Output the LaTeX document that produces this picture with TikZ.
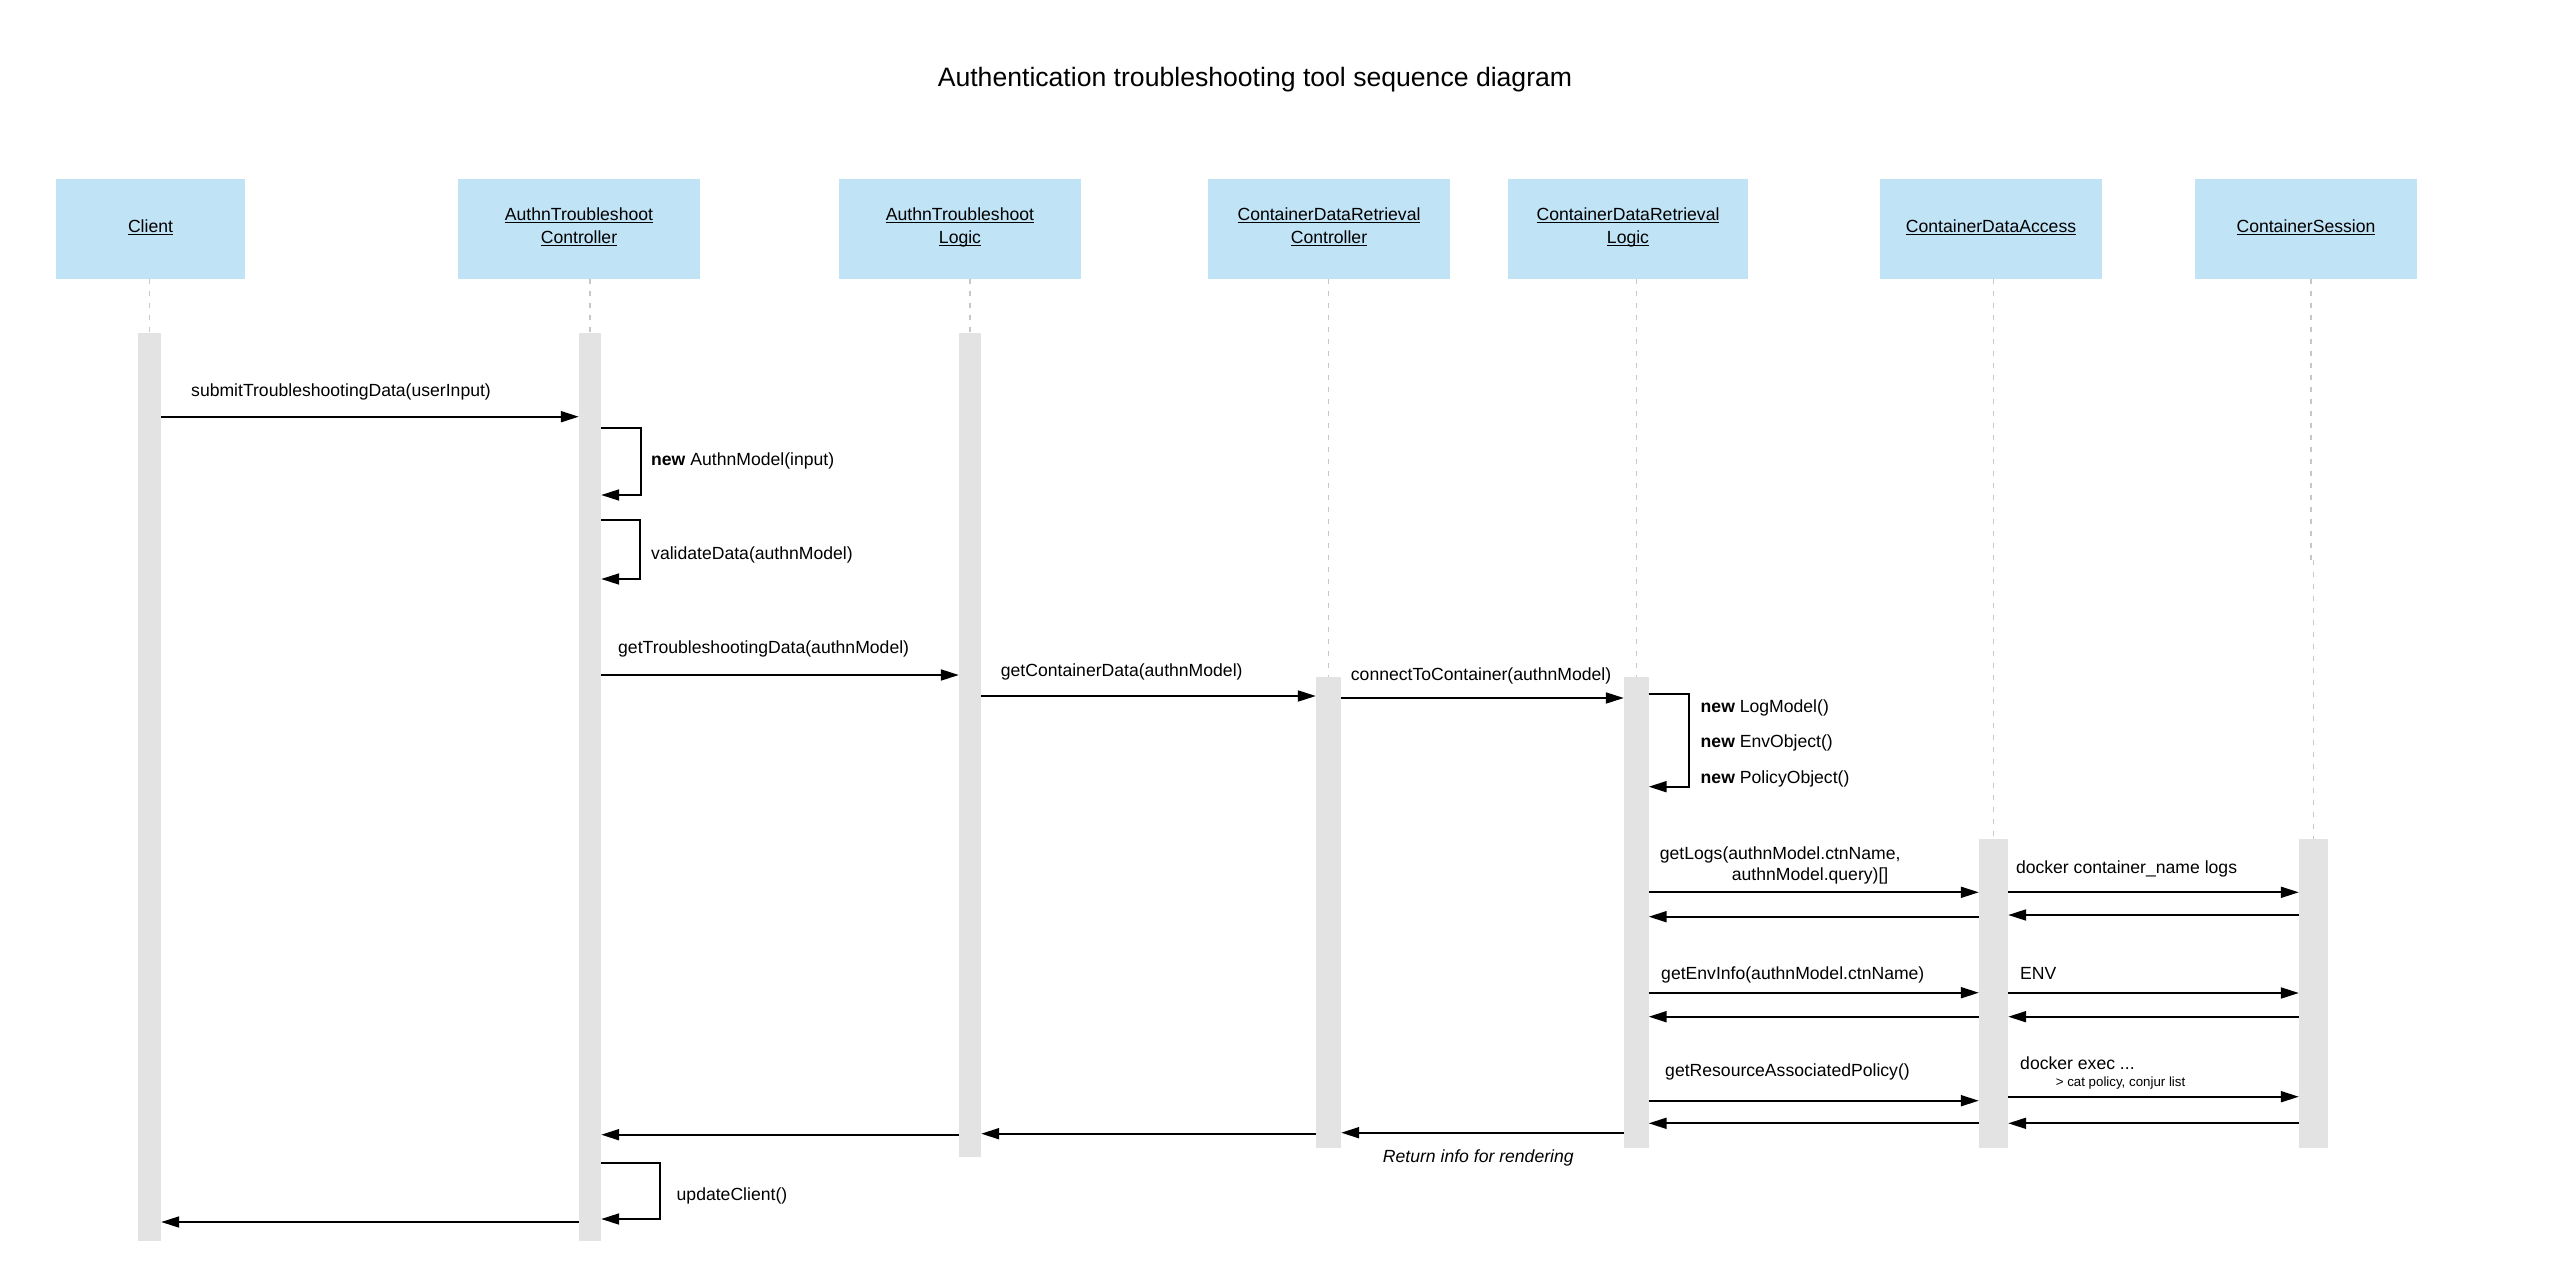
\documentclass[tikz,border=0pt]{standalone}
\usepackage{fontspec}
\setmainfont{Liberation Sans}
\usetikzlibrary{arrows.meta}
\definecolor{boxblue}{HTML}{C1E3F6}
\definecolor{barg}{HTML}{E3E3E3}
\definecolor{lifeg}{HTML}{C8C8C8}
\newcommand\uln[1]{\setbox0=\hbox{#1}\rlap{\vrule height -0.07em depth 0.14em width \wd0}\box0}
\newcommand\msgfont{\fontsize{17.6}{22.3}\selectfont}
\tikzset{
  participant/.style={fill=boxblue, draw=none, minimum height=100pt, inner sep=0},
  actbar/.style={fill=barg, draw=none, inner sep=0},
  lifeline/.style={draw=lifeg, line width=1.5pt, dash pattern=on 5pt off 7pt},
  msg/.style={line width=1.9pt, -{Triangle[length=18pt,width=11pt]}},
  lbl/.style={inner sep=0, anchor=base west, font=\msgfont},
  plbl/.style={inner sep=0, anchor=base, font=\msgfont},
}
\begin{document}
\begin{tikzpicture}[x=1pt,y=-1pt]
\useasboundingbox[fill=white] (0,0) rectangle (2576,1276);

% title
\node[inner sep=0, anchor=base, font=\fontsize{26.6}{32}\selectfont] (title) at (1255,86.7) {Authentication troubleshooting tool sequence diagram};

% participants
\node[participant, minimum width=189pt] (pC)  at (150.5,229) {};
\node[participant, minimum width=242pt] (pAC) at (579,229) {};
\node[participant, minimum width=242pt] (pAL) at (960,229) {};
\node[participant, minimum width=242pt] (pCC) at (1329,229) {};
\node[participant, minimum width=240pt] (pCL) at (1628,229) {};
\node[participant, minimum width=222pt] (pDA) at (1991,229) {};
\node[participant, minimum width=222pt] (pCS) at (2306,229) {};

\node[plbl] (tC)  at (150.5,232.5) {\uln{Client}};
\node[plbl] (tAC1) at (579,221) {\uln{AuthnTroubleshoot}};
\node[plbl] (tAC2) at (579,243.3) {\uln{Controller}};
\node[plbl] (tAL1) at (960,221) {\uln{AuthnTroubleshoot}};
\node[plbl] (tAL2) at (960,243.3) {\uln{Logic}};
\node[plbl] (tCC1) at (1329,221) {\uln{ContainerDataRetrieval}};
\node[plbl] (tCC2) at (1329,243.3) {\uln{Controller}};
\node[plbl] (tCL1) at (1628,221) {\uln{ContainerDataRetrieval}};
\node[plbl] (tCL2) at (1628,243.3) {\uln{Logic}};
\node[plbl] (tDA) at (1991,232.5) {\uln{ContainerDataAccess}};
\node[plbl] (tCS) at (2306,232.5) {\uln{ContainerSession}};

% activation bars
\node[actbar, minimum width=23pt, minimum height=908pt] (bC)  at (149.5,787) {};
\node[actbar, minimum width=22pt, minimum height=908pt] (bAC) at (590,787) {};
\node[actbar, minimum width=22pt, minimum height=824pt] (bAL) at (970,745) {};
\node[actbar, minimum width=25pt, minimum height=471pt] (bCC) at (1328.5,912.5) {};
\node[actbar, minimum width=24.5pt, minimum height=471pt] (bCL) at (1636.25,912.5) {};
\node[actbar, minimum width=29pt, minimum height=309pt] (bDA) at (1993.5,993.5) {};
\node[actbar, minimum width=29pt, minimum height=309pt] (bCS) at (2313.5,993.5) {};

% lifelines
\draw[lifeline] (bC.north |- pC.south) -- (bC.north);
\draw[lifeline] (bAC.north |- pAC.south) -- (bAC.north);
\draw[lifeline] (bAL.north |- pAL.south) -- (bAL.north);
\draw[lifeline] (bCC.north |- pCC.south) -- (bCC.north);
\draw[lifeline] (bCL.north |- pCL.south) -- (bCL.north);
\draw[lifeline] (bDA.north |- pDA.south) -- (bDA.north);
\coordinate (jog) at (2311,560);
\draw[lifeline] (jog |- pCS.south) -- (jog);
\draw[lifeline] (bCS.north |- jog) -- (bCS.north);

% messages
\draw[msg] (bC.east |- 0,416.7) -- (bAC.west |- 0,416.7);
\node[lbl] (m1) at (191,396) {submitTroubleshootingData(userInput)};

\draw[msg] (bAC.east |- 0,428.3) -- ++(40,0) |- (bAC.east |- 0,495);
\node[lbl] (m2) at (651,465) {\textbf{new} AuthnModel(input)};

\draw[msg] (bAC.east |- 0,520) -- ++(39,0) |- (bAC.east |- 0,579);
\node[lbl] (m3) at (651,559.3) {validateData(authnModel)};

\draw[msg] (bAC.east |- 0,675) -- (bAL.west |- 0,675);
\node[lbl] (m4) at (618,653) {getTroubleshootingData(authnModel)};

\draw[msg] (bAL.east |- 0,696) -- (bCC.west |- 0,696);
\node[lbl] (m5) at (1000.7,676.6) {getContainerData(authnModel)};

\draw[msg] (bCC.east |- 0,698) -- (bCL.west |- 0,698);
\node[lbl] (m6) at (1350.7,680) {connectToContainer(authnModel)};

\draw[msg] (bCL.east |- 0,694.3) -- ++(40.5,0) |- (bCL.east |- 0,786.7);
\node[lbl] (m7a) at (1700.5,712) {\textbf{new} LogModel()};
\node[lbl] (m7b) at (1700.5,747.6) {\textbf{new} EnvObject()};
\node[lbl] (m7c) at (1700.5,783.3) {\textbf{new} PolicyObject()};

\draw[msg] (bCL.east |- 0,892.3) -- (bDA.west |- 0,892.3);
\draw[msg] (bDA.west |- 0,916.7) -- (bCL.east |- 0,916.7);
\node[lbl] (m8a) at (1659.7,859.3) {getLogs(authnModel.ctnName,};
\node[lbl] (m8b) at (1731.6,880) {authnModel.query)[]};

\draw[msg] (bDA.east |- 0,892.3) -- (bCS.west |- 0,892.3);
\draw[msg] (bCS.west |- 0,915) -- (bDA.east |- 0,915);
\node[lbl] (m9) at (2015.8,873) {docker container\_name logs};

\draw[msg] (bCL.east |- 0,992.7) -- (bDA.west |- 0,992.7);
\draw[msg] (bDA.west |- 0,1016.7) -- (bCL.east |- 0,1016.7);
\node[lbl] (m10) at (1661,979.3) {getEnvInfo(authnModel.ctnName)};

\draw[msg] (bDA.east |- 0,993) -- (bCS.west |- 0,993);
\draw[msg] (bCS.west |- 0,1016.7) -- (bDA.east |- 0,1016.7);
\node[lbl] (m11) at (2020,979.5) {ENV};

\draw[msg] (bCL.east |- 0,1100.7) -- (bDA.west |- 0,1100.7);
\draw[msg] (bDA.west |- 0,1123.3) -- (bCL.east |- 0,1123.3);
\node[lbl] (m12) at (1665,1076) {getResourceAssociatedPolicy()};

\draw[msg] (bDA.east |- 0,1096.7) -- (bCS.west |- 0,1096.7);
\draw[msg] (bCS.west |- 0,1123.3) -- (bDA.east |- 0,1123.3);
\node[lbl] (m13a) at (2020,1069) {docker exec ...};
\node[lbl, font=\fontsize{13.3}{16}\selectfont] (m13b) at (2055.6,1086.4) {> cat policy, conjur list};

% returns
\draw[msg] (bCL.west |- 0,1132.7) -- (bCC.east |- 0,1132.7);
\node[lbl] (m14) at (1382.7,1162.7) {\itshape Return info for rendering};
\draw[msg] (bCC.west |- 0,1133.7) -- (bAL.east |- 0,1133.7);
\draw[msg] (bAL.west |- 0,1134.7) -- (bAC.east |- 0,1134.7);

\draw[msg] (bAC.east |- 0,1163.3) -- ++(59,0) |- (bAC.east |- 0,1219);
\node[lbl] (m15) at (676.5,1200.3) {updateClient()};

\draw[msg] (bAC.west |- 0,1222) -- (bC.east |- 0,1222);
\end{tikzpicture}
\end{document}
